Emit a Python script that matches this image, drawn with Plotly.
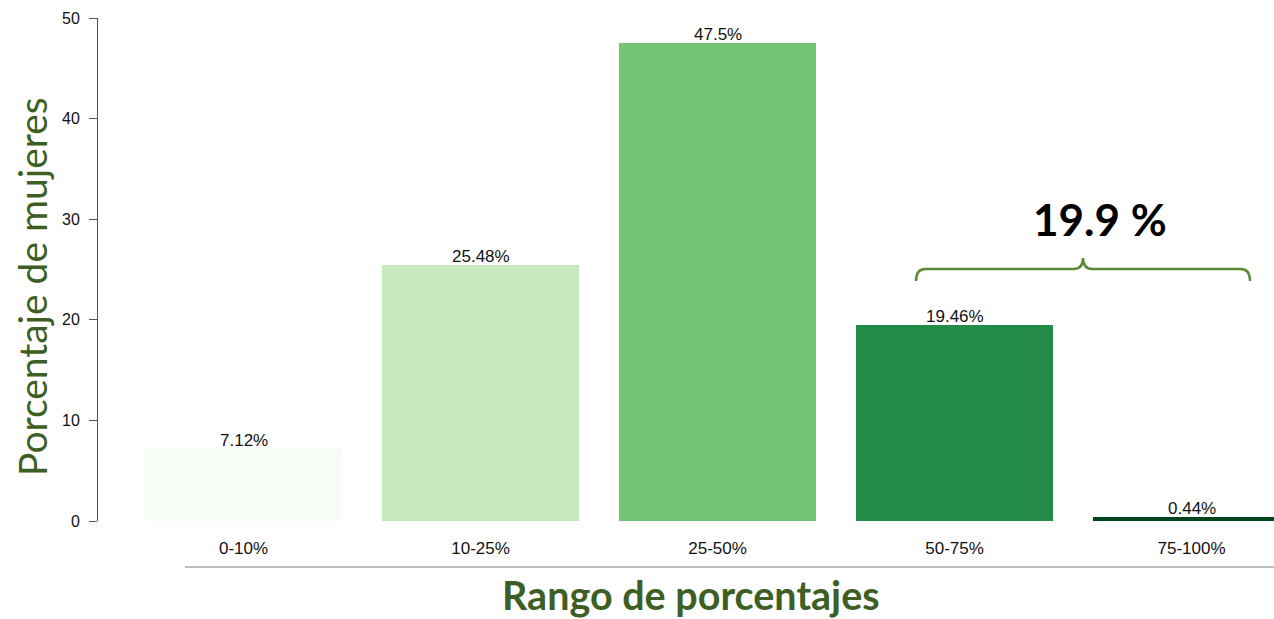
import plotly.graph_objects as go

categories = ["0-10%", "10-25%", "25-50%", "50-75%", "75-100%"]
values = [7.12, 25.48, 47.5, 19.46, 0.44]
value_labels = ["7.12%", "25.48%", "47.5%", "19.46%", "0.44%"]
bar_colors = ["#f7fcf5", "#c7e9c0", "#74c476", "#238b45", "#00441b"]
y_ticks = [0, 10, 20, 30, 40, 50]
bracket_label = "19.9 %"

W, H = 1274, 619
PL, PT, PB = 98, 18, 521          # plot-area edges in pixels
L, T, B, R = PL, PT, H - PB, 0
pw, ph = W - L - R, H - T - B

x0r, x1r = -0.614, -0.614 + pw / 237.0

def px2x(px):
    return x0r + (px - PL) / pw * (x1r - x0r)

def py2y(py):
    return (PB - py) / ph * 50.0

def pxp(px):
    return (px - PL) / pw

def pyp(py):
    return (PB - py) / ph

fig = go.Figure()
fig.add_trace(go.Bar(
    x=list(range(len(categories))), y=values,
    marker=dict(color=bar_colors, line=dict(width=0)),
    width=0.83,
    cliponaxis=True,
    hoverinfo="skip",
))

for i, (v, lab) in enumerate(zip(values, value_labels)):
    fig.add_annotation(x=i, y=v, xref="x", yref="y", text=lab, showarrow=False,
                       xanchor="center", yanchor="bottom", yshift=-3,
                       font=dict(family="Arial, Liberation Sans", size=17, color="#111"))

# bracket
bx0, bx1, bxm = px2x(916), px2x(1250), px2x(1083)
by, bye, bym = py2y(269), py2y(281), py2y(258)
r = 0.04
path = (f"M {bx0},{bye} Q {bx0},{by} {bx0 + r},{by} L {bxm - r},{by} "
        f"Q {bxm},{by} {bxm},{bym} Q {bxm},{by} {bxm + r},{by} L {bx1 - r},{by} "
        f"Q {bx1},{by} {bx1},{bye}")
fig.add_shape(type="path", path=path, xref="x", yref="y",
              line=dict(color="#5b8c35", width=2.5))

# gray line under tick labels
fig.add_shape(type="line", xref="paper", yref="paper",
              x0=pxp(185), x1=1.0, y0=pyp(567), y1=pyp(567),
              line=dict(color="#aaaaaa", width=1.5))

fig.add_annotation(text=bracket_label, x=pxp(1100), y=pyp(219),
                   xref="paper", yref="paper", showarrow=False,
                   xanchor="center", yanchor="middle",
                   font=dict(family="Lato, Open Sans", size=44, color="black", weight="bold"))

fig.add_annotation(text="Porcentaje de mujeres", textangle=-90,
                   xref="paper", yref="paper",
                   x=pxp(32), y=pyp(287),
                   xanchor="center", yanchor="middle", showarrow=False,
                   font=dict(family="Lato, Open Sans", size=39, color="#3e5f23"))

fig.add_annotation(text="Rango de porcentajes",
                   xref="paper", yref="paper",
                   x=pxp(691), y=pyp(594),
                   xanchor="center", yanchor="middle", showarrow=False,
                   font=dict(family="Lato, Open Sans", size=39.5, color="#3e5f23", weight="bold"))

fig.update_layout(
    width=W, height=H,
    margin=dict(l=L, r=R, t=T, b=B, pad=0),
    plot_bgcolor="white", paper_bgcolor="white",
    showlegend=False,
    bargap=0,
)
fig.update_xaxes(
    range=[x0r, x1r],
    tickmode="array", tickvals=list(range(len(categories))), ticktext=categories,
    ticks="outside", ticklen=12, tickcolor="rgba(0,0,0,0)",
    tickfont=dict(family="Arial, Liberation Sans", size=17, color="#111"),
    showline=False, showgrid=False, zeroline=False,
)
fig.update_yaxes(
    range=[0, 50], tickvals=y_ticks,
    ticks="outside", ticklen=8, tickcolor="#555", tickwidth=1,
    showline=True, linecolor="#555", linewidth=1,
    tickfont=dict(family="Arial, Liberation Sans", size=16, color="#111"),
    ticklabelstandoff=6,
    showgrid=False, zeroline=False,
)

fig.write_html("out.html",
               config={"displayModeBar": False},
               post_script="document.body.style.margin='0';document.body.style.overflow='hidden';")
